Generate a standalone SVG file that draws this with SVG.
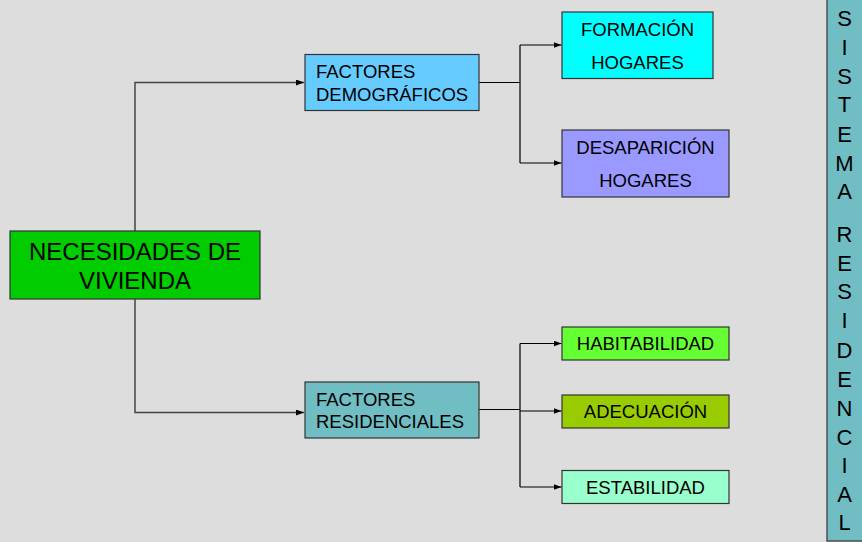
<svg xmlns="http://www.w3.org/2000/svg" width="862" height="542" viewBox="0 0 862 542">
<defs>
<marker id="ah" markerWidth="8" markerHeight="6" refX="8" refY="3" orient="auto" markerUnits="userSpaceOnUse">
<path d="M0,0 L8,3 L0,6 Z" fill="#000"/>
</marker>
<style>
.box{stroke:#333;stroke-width:1.2}
.t{font-family:"Liberation Sans",Arial,sans-serif;font-size:18.5px;fill:#000}
.c{text-anchor:middle}
.big{font-size:24px}
.col{font-family:"Liberation Sans",Arial,sans-serif;font-size:22px;fill:#000;text-anchor:middle}
.ln{fill:none;stroke:#000;stroke-width:1.2}
.lg{fill:none;stroke:#444;stroke-width:1.5}
</style>
</defs>
<rect x="0" y="0" width="862" height="542" fill="#DDDDDD"/>
<g id="connectors">
<path class="lg" d="M135,231 V82.5 H304" marker-end="url(#ah)"/>
<path class="lg" d="M135,299 V412.5 H304" marker-end="url(#ah)"/>
<path class="ln" d="M479,82.5 H520"/>
<path class="ln" d="M520,45 V163"/>
<path class="ln" d="M520,45 H561.5" marker-end="url(#ah)"/>
<path class="ln" d="M520,163 H561.5" marker-end="url(#ah)"/>
<path class="ln" d="M479,409.5 H520"/>
<path class="ln" d="M520,343.5 V487"/>
<path class="ln" d="M520,343.5 H561.5" marker-end="url(#ah)"/>
<path class="ln" d="M520,411 H561.5" marker-end="url(#ah)"/>
<path class="ln" d="M520,487 H561.5" marker-end="url(#ah)"/>
</g>
<g id="necesidades">
<rect class="box" x="10" y="231" width="250" height="68" fill="#00CC00"/>
<text class="t c big" x="135" y="260">NECESIDADES DE</text>
<text class="t c big" x="135" y="289">VIVIENDA</text>
</g>
<g id="demograficos">
<rect class="box" x="305" y="54.5" width="174" height="56" fill="#66CCFF"/>
<text class="t" x="316" y="77.5">FACTORES</text>
<text class="t" x="316" y="100.5">DEMOGRÁFICOS</text>
</g>
<g id="formacion">
<rect class="box" x="562" y="12" width="151" height="66.5" fill="#00FFFF"/>
<text class="t c" x="637.5" y="35.5">FORMACIÓN</text>
<text class="t c" x="637.5" y="69">HOGARES</text>
</g>
<g id="desaparicion">
<rect class="box" x="562" y="130" width="167" height="67" fill="#9999FF"/>
<text class="t c" x="645.5" y="154">DESAPARICIÓN</text>
<text class="t c" x="645.5" y="187">HOGARES</text>
</g>
<g id="residenciales">
<rect class="box" x="305" y="382" width="174" height="56" fill="#70BDC3"/>
<text class="t" x="316" y="406">FACTORES</text>
<text class="t" x="316" y="427.5">RESIDENCIALES</text>
</g>
<g id="habitabilidad">
<rect class="box" x="562" y="327" width="167" height="33" fill="#66FF33"/>
<text class="t c" x="645.5" y="350">HABITABILIDAD</text>
</g>
<g id="adecuacion">
<rect class="box" x="562" y="395" width="167" height="33" fill="#99CC00"/>
<text class="t c" x="645.5" y="418">ADECUACIÓN</text>
</g>
<g id="estabilidad">
<rect class="box" x="562" y="470.5" width="167" height="33" fill="#99FFCC"/>
<text class="t c" x="645.5" y="493.5">ESTABILIDAD</text>
</g>
<g id="sistema">
<rect class="box" x="827" y="-2" width="40" height="543" fill="#70BDC3"/>
<text class="col" x="844.5" y="26">S</text>
<text class="col" x="844.5" y="55">I</text>
<text class="col" x="844.5" y="84">S</text>
<text class="col" x="844.5" y="112">T</text>
<text class="col" x="844.5" y="141.5">E</text>
<text class="col" x="844.5" y="170.5">M</text>
<text class="col" x="844.5" y="199">A</text>
<text class="col" x="844.5" y="242">R</text>
<text class="col" x="844.5" y="270.5">E</text>
<text class="col" x="844.5" y="299">S</text>
<text class="col" x="844.5" y="328">I</text>
<text class="col" x="844.5" y="358">D</text>
<text class="col" x="844.5" y="387">E</text>
<text class="col" x="844.5" y="415.5">N</text>
<text class="col" x="844.5" y="445">C</text>
<text class="col" x="844.5" y="472.5">I</text>
<text class="col" x="844.5" y="501.5">A</text>
<text class="col" x="844.5" y="530">L</text>
</g>
</svg>
